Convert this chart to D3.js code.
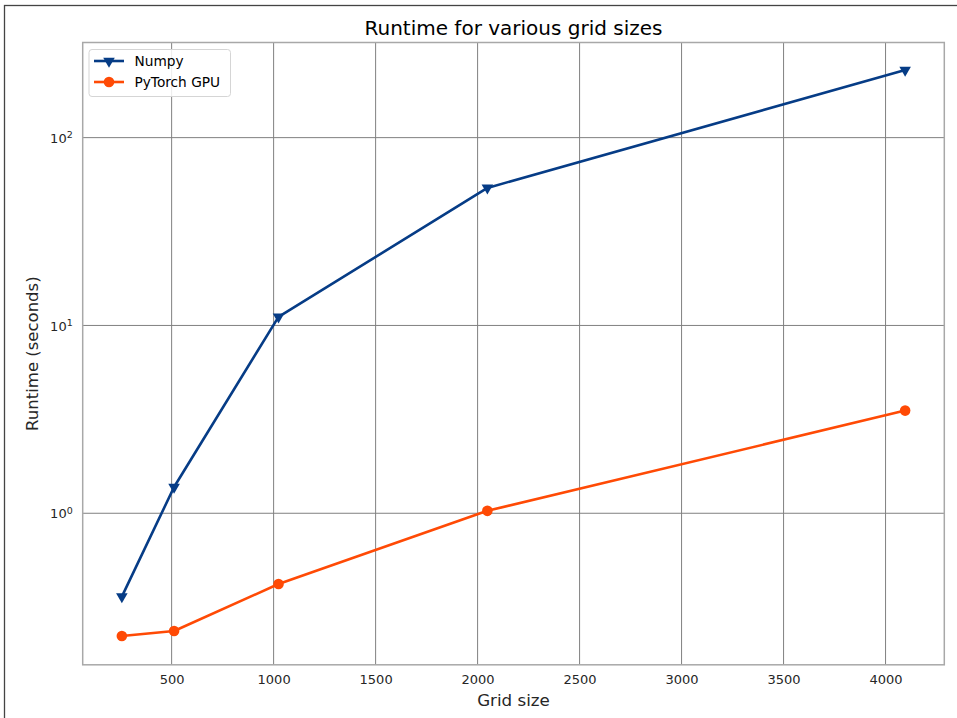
<!DOCTYPE html>
<html><head><meta charset="utf-8">
<script src="https://cdn.jsdelivr.net/npm/d3@7"></script>
<style>body{margin:0;background:#fff;} text{font-family:"DejaVu Sans",sans-serif;}</style>
</head><body>
<svg id="c" width="957" height="718"></svg>
<script>
const gridSizes = [256, 512, 1024, 2048, 4096];
const numpyRuntime = [0.36, 1.38, 11.1, 54, 229];
const torchRuntime = [0.222, 0.236, 0.42, 1.03, 3.52];
const xTicks = [500, 1000, 1500, 2000, 2500, 3000, 3500, 4000];
const yTicks = [1, 10, 100];
const seriesNames = ["Numpy", "PyTorch GPU"];

const svg = d3.select("#c");
const L = 82.7, R = 944.3, T = 42.5, B = 664.8;

svg.append("rect").attr("x",4.5).attr("y",5.5).attr("width",960).attr("height",720)
  .attr("fill","none").attr("stroke","#444").attr("stroke-width",1.3);

const x = d3.scaleLinear().domain([64, 4288]).range([L, R]);
const y = d3.scaleLog().domain([0.156, 321]).range([B, T]);

// grid
svg.append("g").selectAll("line").data(xTicks).join("line")
  .attr("x1",d=>x(d)).attr("x2",d=>x(d)).attr("y1",T).attr("y2",B)
  .attr("stroke","#808080").attr("stroke-width",1);
svg.append("g").selectAll("line").data(yTicks).join("line")
  .attr("x1",L).attr("x2",R).attr("y1",d=>y(d)).attr("y2",d=>y(d))
  .attr("stroke","#808080").attr("stroke-width",1);

// axes (no tick marks)
const xAxis = svg.append("g").attr("transform",`translate(0,${B})`)
  .call(d3.axisBottom(x).tickValues(xTicks).tickSize(0).tickPadding(10).tickFormat(d3.format("d")));
xAxis.select(".domain").remove();
xAxis.selectAll("text").attr("font-size",13).attr("fill","#262626").attr("font-family","DejaVu Sans");

const yAxis = svg.append("g").attr("transform",`translate(${L},0)`)
  .call(d3.axisLeft(y).tickValues(yTicks).tickSize(0).tickPadding(10).tickFormat(""));
yAxis.select(".domain").remove();
yAxis.selectAll(".tick").each(function(d){
  const t = d3.select(this).select("text");
  t.attr("font-size",13).attr("fill","#262626").attr("font-family","DejaVu Sans").attr("dy","0.35em");
  t.append("tspan").text("10");
  t.append("tspan").attr("dy","-0.45em").attr("font-size",9.5).text(String(Math.round(Math.log10(d))));
});

// spines
svg.append("rect").attr("x",L).attr("y",T).attr("width",R-L).attr("height",B-T)
  .attr("fill","none").attr("stroke","#a8a8a8").attr("stroke-width",1.5);

const line = d3.line().x((d,i)=>x(gridSizes[i])).y(d=>y(d));
const colors = ["#063c86", "#ff4a05"];

svg.append("path").datum(numpyRuntime).attr("d",line).attr("fill","none")
  .attr("stroke",colors[0]).attr("stroke-width",2.6).attr("stroke-linejoin","round");
svg.append("path").datum(torchRuntime).attr("d",line).attr("fill","none")
  .attr("stroke",colors[1]).attr("stroke-width",2.6).attr("stroke-linejoin","round");

const tri = d3.symbol().type(d3.symbolTriangle).size(58);
svg.append("g").selectAll("path").data(numpyRuntime).join("path")
  .attr("d",tri).attr("fill",colors[0])
  .attr("transform",(d,i)=>`translate(${x(gridSizes[i])},${y(d)}) rotate(180)`);
svg.append("g").selectAll("circle").data(torchRuntime).join("circle")
  .attr("cx",(d,i)=>x(gridSizes[i])).attr("cy",d=>y(d)).attr("r",5.3).attr("fill",colors[1]);

// title and labels
svg.append("text").attr("x",(L+R)/2).attr("y",34.5).attr("text-anchor","middle")
  .attr("font-size",20).attr("fill","#000").text("Runtime for various grid sizes");
svg.append("text").attr("x",(L+R)/2).attr("y",706).attr("text-anchor","middle")
  .attr("font-size",16.7).attr("fill","#262626").text("Grid size");
svg.append("text").attr("transform",`translate(37.5,${(T+B)/2}) rotate(-90)`).attr("text-anchor","middle")
  .attr("font-size",16.5).attr("fill","#262626").text("Runtime (seconds)");

// legend
const lg = svg.append("g");
lg.append("rect").attr("x",89).attr("y",49.5).attr("width",141.5).attr("height",47).attr("rx",3)
  .attr("fill","#fff").attr("fill-opacity",0.85).attr("stroke","#d5d5d5").attr("stroke-width",1);
seriesNames.forEach((n,i)=>{
  const yy = 61 + i*21;
  lg.append("line").attr("x1",94).attr("x2",124).attr("y1",yy).attr("y2",yy)
    .attr("stroke",colors[i]).attr("stroke-width",2.6);
  if(i===0) lg.append("path").attr("d",tri).attr("fill",colors[0]).attr("transform",`translate(109,${yy}) rotate(180)`);
  else lg.append("circle").attr("cx",109).attr("cy",yy).attr("r",5.3).attr("fill",colors[1]);
  lg.append("text").attr("x",134.5).attr("y",yy).attr("dy","0.35em").attr("font-size",13.7)
    .attr("fill","#000").text(n);
});
</script>
</body></html>
